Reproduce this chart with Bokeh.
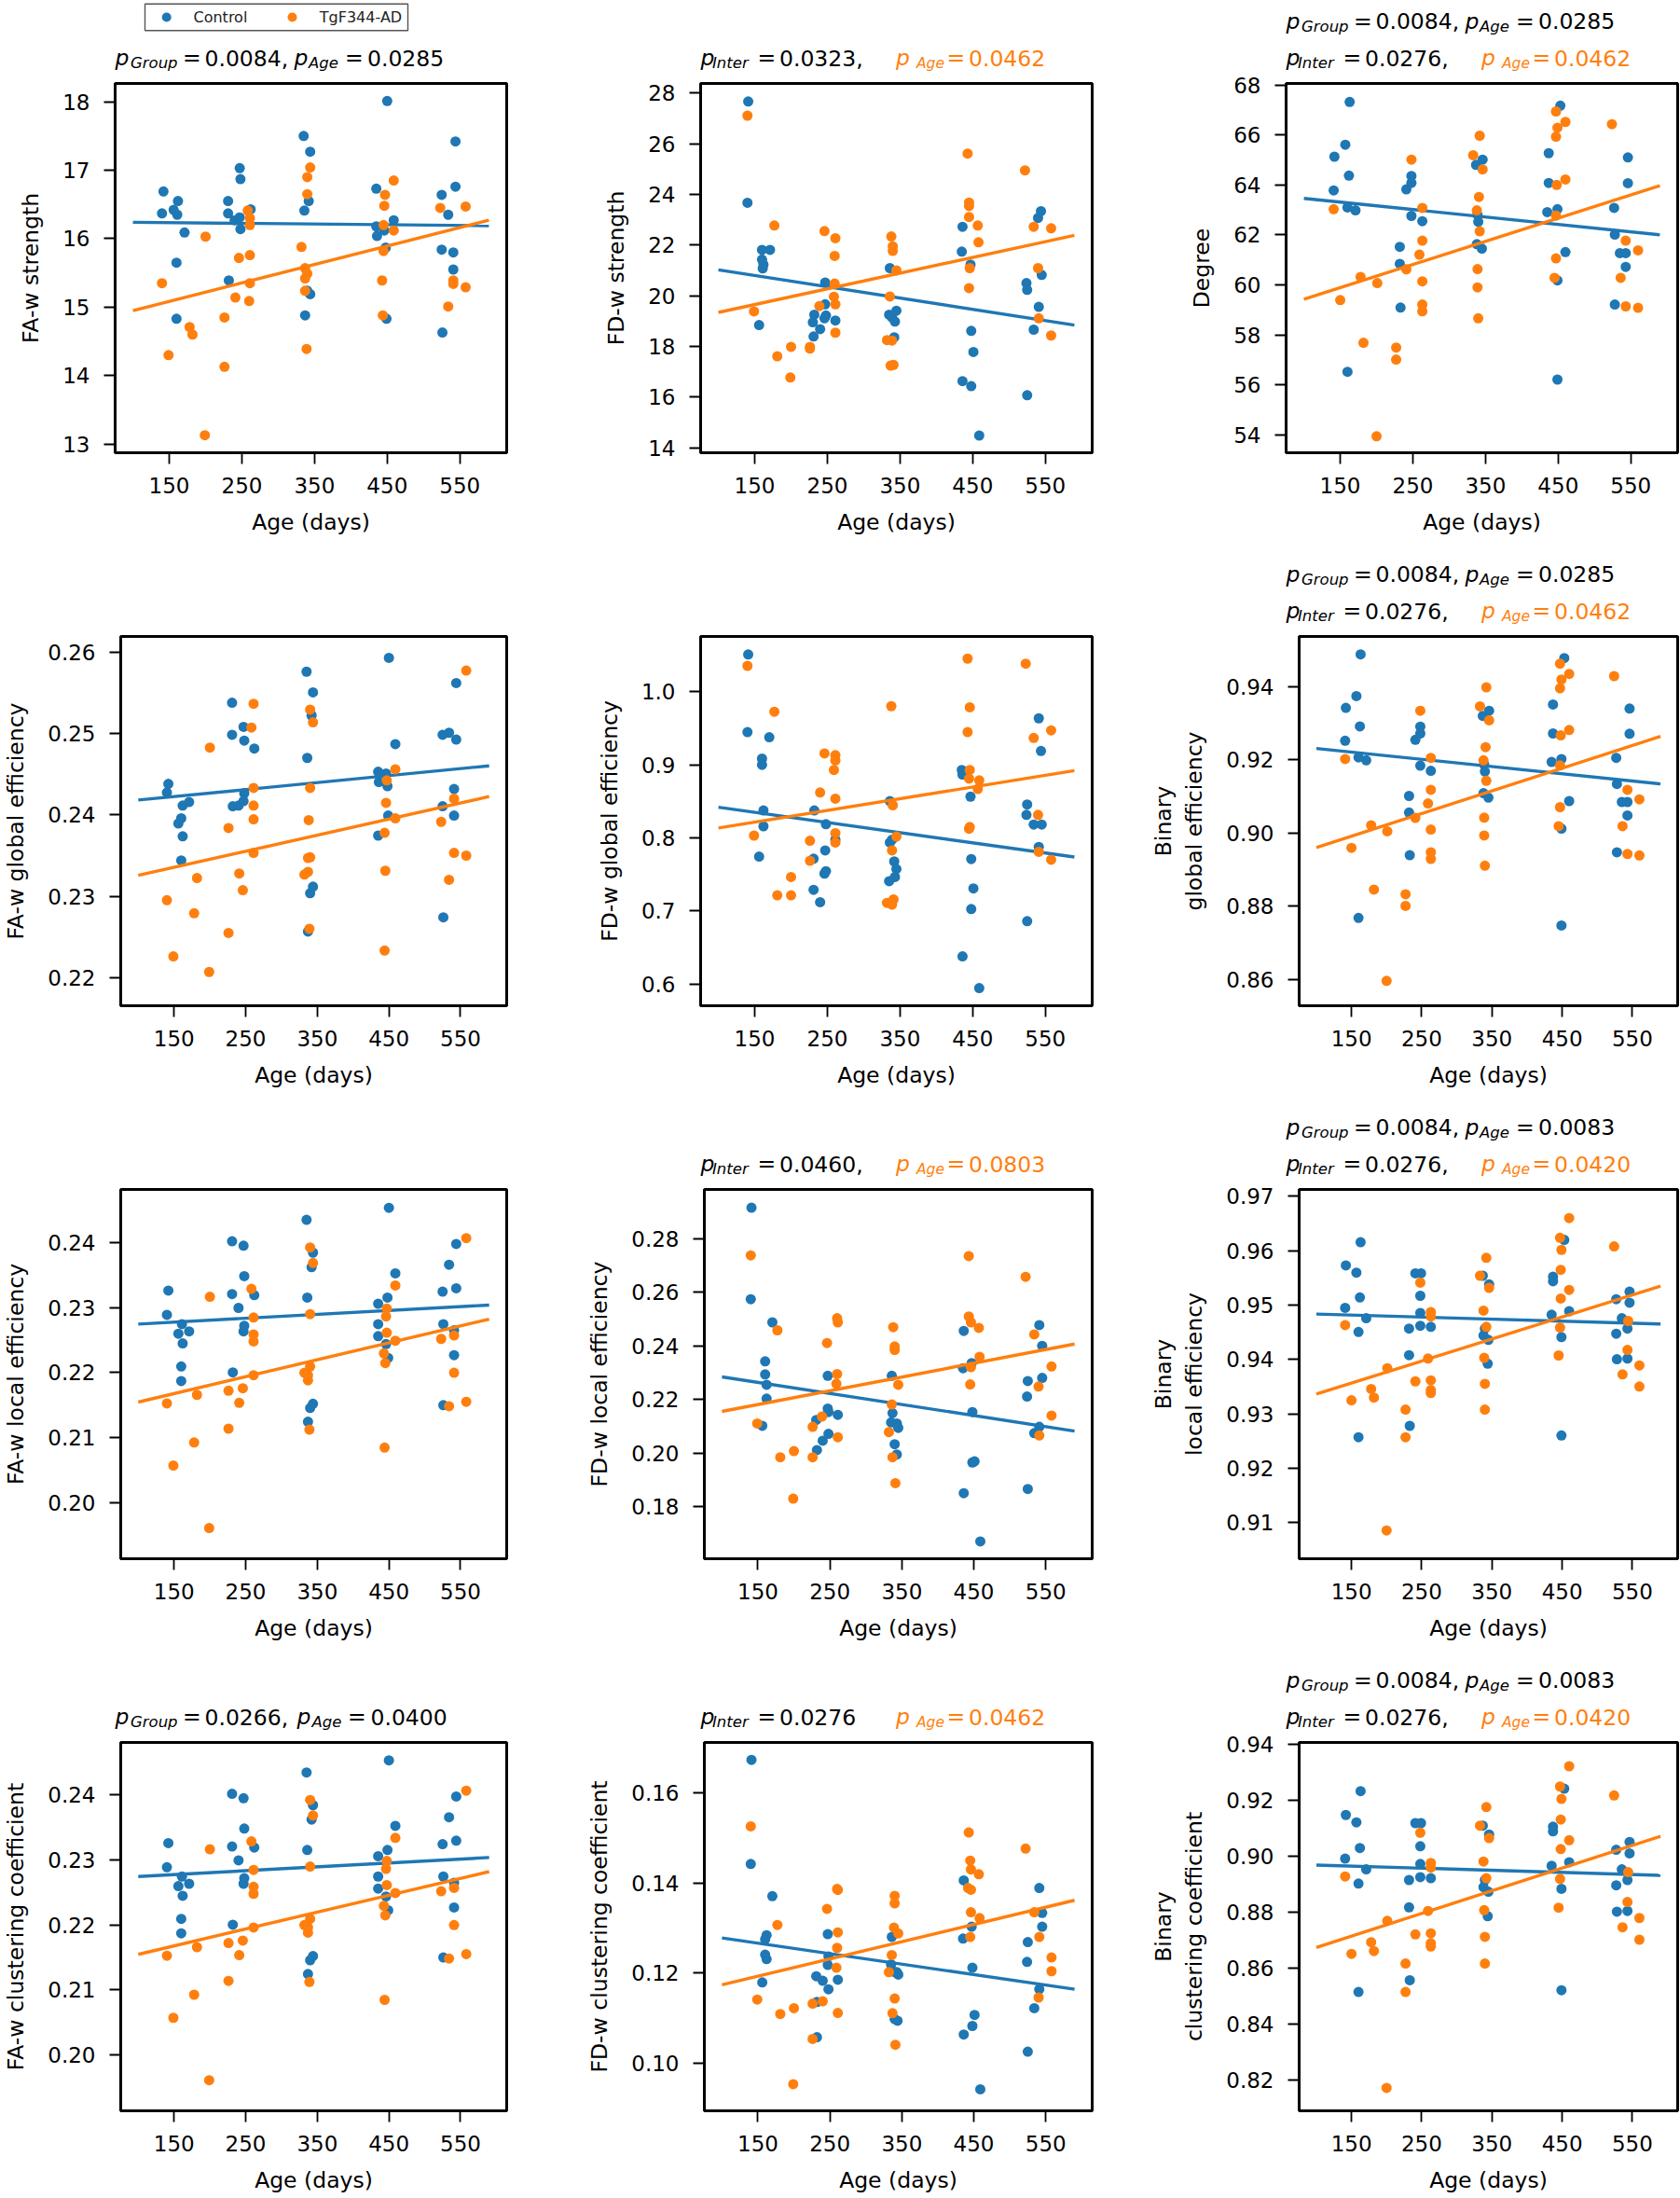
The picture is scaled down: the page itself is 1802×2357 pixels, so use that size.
from bokeh.plotting import figure
from bokeh.models import Range1d, FixedTicker, PrintfTickFormatter, Spacer
from bokeh.layouts import row, column
from bokeh.core.properties import value
from bokeh.embed import file_html
from bokeh.resources import INLINE

BLUE = "#1f77b4"
ORANGE = "#ff7f0e"
BLACK = "#000000"
FONT = "DejaVu Sans"

X_TICKS = [150, 250, 350, 450, 550]
X_RANGE = (75.5, 614.5)
FIT_X = [100, 590]
GROUPS = ["Control", "TgF344-AD"]

# ---------------- Panel 1: FA-w strength ----------------
p1_ctrl_age = [142, 140, 156, 162, 161, 171, 160, 160, 231, 231, 247, 248, 240, 247, 248, 262, 232,
               335, 344, 342, 336, 340, 344, 337, 450, 435, 435, 436, 446, 459, 448, 449,
               544, 544, 525, 534, 525, 541, 541, 526]
p1_ctrl_val = [16.69, 16.37, 16.42, 16.55, 16.35, 16.09, 15.65, 14.83, 16.55, 16.37, 17.03, 16.87, 16.27,
               16.31, 16.14, 16.43, 15.39, 17.50, 17.27, 16.55, 16.41, 15.24, 15.19, 14.88, 18.01, 16.73,
               16.18, 16.04, 16.12, 16.27, 15.87, 14.83, 17.42, 16.76, 16.64, 16.35, 15.84, 15.80, 15.55, 14.63]
p1_tg_age = [140, 149, 178, 182, 200, 199, 226, 226, 241, 246, 260, 261, 261, 258, 261, 261,
             332, 340, 344, 340, 337, 340, 337, 337, 339, 447, 446, 459, 445, 459, 445, 443, 444,
             523, 558, 541, 541, 558, 534]
p1_tg_val = [15.35, 14.30, 14.71, 14.60, 16.03, 13.13, 14.85, 14.13, 15.14, 15.72, 15.09, 15.35, 15.76,
             16.41, 16.30, 16.20, 15.88, 16.90, 17.04, 16.65, 15.57, 15.49, 15.42, 15.24, 14.39, 16.64,
             16.48, 16.85, 16.20, 16.12, 15.82, 15.39, 14.88, 16.45, 16.47, 15.39, 15.34, 15.29, 15.01]
p1_ctrl_fit = [16.24, 16.19]
p1_tg_fit = [14.95, 16.27]

# ---------------- Panel 2: FD-w strength ----------------
p2_ctrl_age = [141, 140, 156, 160, 171, 160, 162, 161, 247, 247, 232, 248, 230, 246, 240, 231, 261,
               336, 335, 339, 345, 343, 342, 436, 435, 447, 448, 451, 436, 448, 459,
               544, 540, 545, 524, 525, 541, 534, 525]
p2_ctrl_val = [27.67, 23.67, 18.84, 21.81, 21.81, 21.43, 21.23, 21.08, 20.52, 19.66, 19.25, 19.22, 18.95,
               19.11, 18.68, 18.39, 19.02, 21.09, 19.25, 19.14, 19.41, 18.98, 18.36, 22.72, 21.74, 21.23,
               18.61, 17.78, 16.63, 16.43, 14.48, 23.34, 23.07, 20.82, 20.50, 20.23, 19.56, 18.66, 16.07]
p2_tg_age = [140, 149, 177, 181, 200, 199, 226, 226, 239, 246, 261, 260, 260, 259, 261, 261,
             338, 340, 340, 345, 336, 332, 339, 337, 341, 443, 445, 445, 445, 457, 458, 446, 445,
             522, 534, 558, 540, 541, 558]
p2_tg_val = [27.11, 19.38, 22.77, 17.61, 17.98, 16.77, 17.98, 17.91, 19.59, 22.55, 22.27, 21.57, 20.48,
             19.96, 19.66, 18.54, 22.34, 21.95, 21.77, 21.00, 19.97, 18.25, 18.23, 17.24, 17.27, 25.61,
             23.68, 23.54, 23.11, 22.77, 22.11, 21.09, 20.30, 24.95, 22.72, 22.66, 21.09, 19.11, 18.43]
p2_ctrl_fit = [21.02, 18.84]
p2_tg_fit = [19.34, 22.38]

# ---------------- Panel 3: Degree ----------------
p3_ctrl_age = [163, 157, 142, 162, 141, 160, 171, 160, 248, 241, 248, 248, 263, 232, 232, 233,
               337, 346, 339, 340, 338, 345, 453, 437, 437, 435, 449, 460, 449, 449,
               546, 546, 527, 528, 535, 543, 543, 528]
p3_ctrl_val = [67.32, 65.61, 65.13, 64.37, 63.78, 63.10, 62.98, 56.52, 64.36, 63.82, 64.08, 62.76, 62.55,
               61.52, 60.84, 59.09, 64.80, 65.01, 62.80, 62.52, 61.63, 61.45, 67.17, 65.27, 64.08, 62.91,
               63.03, 61.31, 60.18, 56.21, 65.10, 64.07, 63.08, 62.01, 61.27, 61.27, 60.72, 59.21]
p3_tg_age = [141, 150, 178, 182, 201, 200, 227, 227, 241, 248, 263, 263, 259, 263, 263, 263,
             333, 342, 346, 341, 338, 342, 339, 339, 340, 447, 449, 447, 460, 448, 460, 447, 447, 445,
             524, 543, 560, 536, 543, 560]
p3_tg_val = [63.03, 59.39, 60.32, 57.68, 60.07, 53.94, 57.49, 57.01, 60.62, 65.01, 63.08, 61.77, 61.21,
             60.14, 59.21, 58.94, 65.19, 65.97, 64.62, 63.52, 62.98, 62.14, 60.63, 59.90, 58.66, 66.94,
             66.29, 65.93, 66.52, 64.00, 64.22, 62.77, 61.06, 60.28, 66.43, 61.77, 61.38, 60.28, 59.14, 59.08]
p3_ctrl_fit = [63.46, 62.00]
p3_tg_fit = [59.42, 63.97]

# ---------------- Panel 4: FA-w global efficiency ----------------
p4_ctrl_age = [142, 140, 156, 160, 162, 171, 162, 160, 231, 231, 247, 248, 262, 232, 240, 247, 248,
               335, 344, 342, 336, 340, 344, 337, 450, 459, 435, 436, 446, 448, 449, 435,
               544, 534, 525, 544, 541, 525, 541, 526]
p4_ctrl_val = [0.24381, 0.24275, 0.23894, 0.23958, 0.24114, 0.24157, 0.23737, 0.23441, 0.25377, 0.24983,
               0.25081, 0.24911, 0.24814, 0.24106, 0.24114, 0.24169, 0.24267, 0.25758, 0.25504, 0.25220,
               0.24699, 0.23038, 0.23119, 0.22568, 0.25928, 0.24869, 0.24530, 0.24403, 0.24508, 0.24352,
               0.23992, 0.23746, 0.25619, 0.25008, 0.24983, 0.24924, 0.24318, 0.24106, 0.23992, 0.22742]
p4_tg_age = [140, 149, 178, 182, 200, 199, 226, 226, 241, 246, 258, 261, 261, 261, 261, 261,
             340, 344, 340, 338, 340, 337, 332, 337, 339, 459, 447, 446, 459, 444, 445, 444,
             558, 541, 523, 541, 558, 534]
p4_tg_val = [0.22953, 0.22263, 0.22792, 0.23225, 0.24826, 0.22072, 0.23839, 0.22551, 0.23280, 0.23076,
             0.25072, 0.25364, 0.24331, 0.24114, 0.23945, 0.23534, 0.25292, 0.25136, 0.24331, 0.23936,
             0.23479, 0.23470, 0.23267, 0.23301, 0.22602, 0.24559, 0.24424, 0.24148, 0.23958, 0.23780,
             0.23314, 0.22335, 0.25771, 0.24199, 0.23915, 0.23534, 0.23500, 0.23203]
p4_ctrl_fit = [0.24182, 0.24602]
p4_tg_fit = [0.23258, 0.24225]

# ---------------- Panel 5: FD-w global efficiency ----------------
p5_ctrl_age = [141, 140, 170, 160, 160, 162, 162, 156, 232, 248, 261, 247, 231, 248, 246, 231, 240,
               336, 339, 336, 342, 345, 343, 335, 435, 436, 447, 448, 451, 448, 436, 459,
               541, 544, 525, 524, 534, 545, 541, 525]
p5_ctrl_val = [1.0510, 0.9447, 0.9377, 0.9084, 0.8999, 0.8375, 0.8158, 0.7743, 0.8375, 0.8187, 0.7974,
               0.7828, 0.7714, 0.7544, 0.7511, 0.7289, 0.7119, 0.8503, 0.7974, 0.7936, 0.7677, 0.7573,
               0.7464, 0.7407, 0.8928, 0.8867, 0.8564, 0.7710, 0.7308, 0.7025, 0.6378, 0.5943, 0.9636,
               0.9188, 0.8456, 0.8314, 0.8182, 0.8182, 0.7875, 0.6860]
p5_tg_age = [140, 149, 177, 181, 200, 200, 226, 226, 240, 246, 261, 261, 259, 261, 261, 261,
             338, 340, 345, 339, 332, 339, 341, 443, 446, 443, 446, 445, 459, 457, 446, 445,
             523, 534, 558, 540, 541, 558]
p5_tg_val = [1.0354, 0.8031, 0.9726, 0.7214, 0.7464, 0.7214, 0.7960, 0.7686, 0.8621, 0.9155, 0.9131,
             0.9060, 0.8928, 0.8536, 0.8064, 0.7936, 0.9802, 0.8446, 0.8017, 0.7828, 0.7110, 0.7086,
             0.7157, 1.0453, 0.9787, 0.9447, 0.8928, 0.8810, 0.8786, 0.8668, 0.8149, 0.8125, 1.0383,
             0.9367, 0.9471, 0.8314, 0.7809, 0.7700]
p5_ctrl_fit = [0.8418, 0.7738]
p5_tg_fit = [0.8135, 0.8919]

# ---------------- Panel 6: Binary global efficiency (same animals/ages as panel 3) ----------------
p6_ctrl_val = [0.94880, 0.93740, 0.93420, 0.92913, 0.92520, 0.92067, 0.91987, 0.87680, 0.92907, 0.92547,
               0.92720, 0.91840, 0.91700, 0.91013, 0.90560, 0.89393, 0.93200, 0.93340, 0.91867, 0.91680,
               0.91087, 0.90967, 0.94780, 0.93513, 0.92720, 0.91940, 0.92020, 0.90873, 0.90120, 0.87473,
               0.93400, 0.92713, 0.92053, 0.91340, 0.90847, 0.90847, 0.90480, 0.89473]
p6_tg_val = [0.92020, 0.89593, 0.90213, 0.88453, 0.90047, 0.85960, 0.88327, 0.88007, 0.90413, 0.93340,
             0.92053, 0.91180, 0.90807, 0.90093, 0.89473, 0.89293, 0.93460, 0.93980, 0.93080, 0.92347,
             0.91987, 0.91427, 0.90420, 0.89933, 0.89107, 0.94627, 0.94193, 0.93953, 0.94347, 0.92667,
             0.92813, 0.91847, 0.90707, 0.90187, 0.94287, 0.91180, 0.90920, 0.90187, 0.89427, 0.89387]
p6_ctrl_fit = [0.9231, 0.9134]
p6_tg_fit = [0.8960, 0.9264]

# ---------------- Panel 7 / 10: FA-w local efficiency / clustering coefficient ----------------
p7_ctrl_age = [142, 140, 156, 161, 171, 162, 160, 160, 231, 247, 248, 231, 240, 248, 247, 262, 232,
               335, 344, 342, 336, 340, 344, 337, 450, 459, 435, 448, 435, 435, 446, 449,
               544, 534, 525, 544, 526, 541, 541, 526]
p7_ctrl_val = [0.23258, 0.22887, 0.22596, 0.22744, 0.22633, 0.22448, 0.22093, 0.21870, 0.24016, 0.23947,
               0.23481, 0.23205, 0.22993, 0.22718, 0.22633, 0.23189, 0.22003, 0.24344, 0.23841, 0.23619,
               0.23152, 0.21457, 0.21521, 0.21245, 0.24530, 0.23523, 0.23057, 0.23152, 0.22744, 0.22559,
               0.22437, 0.22225, 0.23974, 0.23656, 0.23242, 0.23295, 0.22744, 0.22649, 0.22268, 0.21499]
p7_tg_age = [140, 149, 178, 182, 200, 199, 226, 226, 241, 246, 258, 261, 261, 261, 261,
             340, 344, 340, 332, 340, 337, 337, 339, 459, 447, 446, 447, 459, 443, 445, 444,
             558, 523, 541, 541, 558, 534]
p7_tg_val = [0.21526, 0.20572, 0.20927, 0.21658, 0.23163, 0.19613, 0.21722, 0.21139, 0.21536, 0.21759,
             0.23285, 0.22845, 0.22585, 0.22479, 0.21960, 0.23921, 0.23682, 0.22898, 0.21997, 0.22093,
             0.21960, 0.21881, 0.21123, 0.23338, 0.22983, 0.22861, 0.22612, 0.22490, 0.22294, 0.22146,
             0.20848, 0.24064, 0.22517, 0.22570, 0.21997, 0.21552, 0.21483]
p7_ctrl_fit = [0.22744, 0.23036]
p7_tg_fit = [0.21547, 0.22819]

# ---------------- Panel 8: FD-w local efficiency ----------------
p8_ctrl_age = [141, 140, 170, 160, 160, 162, 162, 156, 247, 247, 248, 261, 231, 248, 240, 232,
               336, 337, 335, 343, 345, 340, 343, 436, 435, 447, 448, 448, 451, 436, 459,
               541, 545, 525, 545, 524, 541, 534, 525]
p8_ctrl_val = [0.29158, 0.25748, 0.24885, 0.23431, 0.22942, 0.22556, 0.22041, 0.21025, 0.22891, 0.21668,
               0.21539, 0.21436, 0.21243, 0.20728, 0.20471, 0.20124, 0.22891, 0.21500, 0.21153, 0.21114,
               0.20947, 0.20342, 0.19956, 0.24564, 0.23174, 0.23367, 0.21539, 0.19660, 0.19699, 0.18515,
               0.16713, 0.24783, 0.24010, 0.22697, 0.22813, 0.22118, 0.20986, 0.20754, 0.18669]
p8_tg_age = [140, 149, 177, 181, 200, 199, 226, 226, 239, 246, 260, 261, 260, 259, 261,
             338, 340, 340, 345, 336, 332, 337, 341, 443, 443, 446, 457, 458, 446, 445,
             522, 534, 558, 540, 558, 541]
p8_tg_val = [0.27382, 0.21114, 0.24589, 0.19853, 0.20085, 0.18309, 0.20986, 0.19853, 0.21372, 0.24113,
             0.25040, 0.24885, 0.22955, 0.22595, 0.20600, 0.24705, 0.23985, 0.23856, 0.22556, 0.21822,
             0.20793, 0.19853, 0.18888, 0.27356, 0.25104, 0.24885, 0.24679, 0.23598, 0.23212, 0.22569,
             0.26584, 0.24435, 0.23238, 0.22492, 0.21410, 0.20664]
p8_ctrl_fit = [0.22852, 0.20831]
p8_tg_fit = [0.21565, 0.24075]

# ---------------- Panel 9: Binary local efficiency ----------------
p9_ctrl_age = [163, 142, 157, 162, 141, 171, 160, 160, 241, 249, 248, 248, 248, 263, 232, 232, 233,
               337, 346, 340, 338, 345, 344, 453, 437, 437, 435, 460, 449, 449,
               546, 546, 527, 535, 543, 527, 528, 543]
p9_ctrl_val = [0.96156, 0.95730, 0.95597, 0.95140, 0.94949, 0.94759, 0.94505, 0.92568, 0.95584, 0.95584,
               0.95171, 0.94854, 0.94619, 0.94600, 0.94568, 0.94079, 0.92778, 0.95540, 0.95381, 0.94568,
               0.94441, 0.94359, 0.93921, 0.96200, 0.95521, 0.95438, 0.94822, 0.94886, 0.94410, 0.92600,
               0.95248, 0.95044, 0.95108, 0.94759, 0.94568, 0.94473, 0.94003, 0.94016]
p9_tg_age = [141, 150, 178, 182, 201, 200, 227, 227, 241, 248, 263, 263, 259, 263, 263, 263,
             333, 342, 346, 338, 342, 339, 340, 340, 460, 447, 449, 448, 460, 448, 447, 445,
             524, 544, 543, 560, 536, 560]
p9_tg_val = [0.94632, 0.93248, 0.93457, 0.93298, 0.93838, 0.90854, 0.93076, 0.92568, 0.93597, 0.95413,
             0.94873, 0.94790, 0.94016, 0.93616, 0.93438, 0.93381, 0.95540, 0.95870, 0.95317, 0.94898,
             0.94600, 0.94029, 0.93552, 0.93076, 0.96600, 0.96238, 0.96016, 0.95648, 0.95279, 0.95121,
             0.94587, 0.94073, 0.96079, 0.94708, 0.94175, 0.93889, 0.93724, 0.93502]
p9_ctrl_fit = [0.94835, 0.94651]
p9_tg_fit = [0.93362, 0.95349]

# ---------------- Panel 11: FD-w clustering coefficient ----------------
p11_ctrl_age = [141, 140, 170, 162, 160, 160, 162, 156, 247, 247, 248, 261, 231, 240, 248, 232, 232,
                336, 335, 339, 345, 343, 340, 344, 436, 435, 447, 448, 451, 448, 436, 459,
                541, 545, 545, 525, 524, 541, 534, 525]
p11_ctrl_val = [0.16720, 0.14417, 0.13705, 0.12841, 0.12750, 0.12409, 0.12311, 0.11795, 0.12864, 0.12182,
                0.12371, 0.11856, 0.11932, 0.11833, 0.11644, 0.11364, 0.10583, 0.12803, 0.12197, 0.12030,
                0.11970, 0.12023, 0.10985, 0.10947, 0.14053, 0.12765, 0.13030, 0.12121, 0.11076, 0.10833,
                0.10644, 0.09432, 0.13886, 0.13333, 0.13030, 0.12689, 0.12250, 0.11644, 0.11227, 0.10265]
p11_tg_age = [140, 149, 177, 181, 200, 199, 226, 226, 240, 246, 260, 261, 261, 260, 259, 261,
              340, 340, 339, 345, 336, 332, 340, 337, 341, 443, 445, 446, 457, 442, 446, 446, 458, 445,
              522, 534, 541, 558, 558, 540]
p11_tg_val = [0.15250, 0.11417, 0.13068, 0.11098, 0.11227, 0.09545, 0.11326, 0.10545, 0.11379, 0.13424,
              0.13864, 0.13841, 0.12902, 0.12561, 0.12121, 0.11121, 0.13712, 0.13545, 0.13008, 0.12879,
              0.12402, 0.12023, 0.11439, 0.11114, 0.10417, 0.15114, 0.14492, 0.14295, 0.14189, 0.13886,
              0.13848, 0.13348, 0.13220, 0.12803, 0.14758, 0.13348, 0.12803, 0.12348, 0.12045, 0.11462]
p11_ctrl_fit = [0.12780, 0.11644]
p11_tg_fit = [0.11742, 0.13614]

# ---------------- Panel 12: Binary clustering coefficient (same ages as panel 9) ----------------
p12_ctrl_val = [0.92312, 0.91460, 0.91194, 0.90280, 0.89898, 0.89518, 0.89010, 0.85136, 0.91168, 0.91168,
                0.90342, 0.89708, 0.89238, 0.89200, 0.89136, 0.88158, 0.85556, 0.91080, 0.90762, 0.89136,
                0.88882, 0.88718, 0.87842, 0.92400, 0.91042, 0.90876, 0.89644, 0.89772, 0.88820, 0.85200,
                0.90496, 0.90088, 0.90216, 0.89518, 0.89136, 0.88946, 0.88006, 0.88032]
p12_tg_val = [0.89264, 0.86496, 0.86914, 0.86596, 0.87676, 0.81708, 0.86152, 0.85136, 0.87194, 0.90826,
              0.89746, 0.89580, 0.88032, 0.87232, 0.86876, 0.86762, 0.91080, 0.91740, 0.90634, 0.89796,
              0.89200, 0.88058, 0.87104, 0.86152, 0.93200, 0.92476, 0.92032, 0.91296, 0.90558, 0.90242,
              0.89174, 0.88146, 0.92158, 0.89416, 0.88350, 0.87778, 0.87448, 0.87004]
p12_ctrl_fit = [0.89670, 0.89302]
p12_tg_fit = [0.86724, 0.90698]

# ---------------- panel descriptions ----------------
panels = [
    dict(ylabel="FA-w strength", yr=(12.874, 18.267), yt=[13, 14, 15, 16, 17, 18], fmt="%d",
         c=(p1_ctrl_age, p1_ctrl_val, p1_ctrl_fit), t=(p1_tg_age, p1_tg_val, p1_tg_fit),
         notes=[("group", "0.0084,", "0.0285", 0)]),
    dict(ylabel="FD-w strength", yr=(13.80, 28.38), yt=[14, 16, 18, 20, 22, 24, 26, 28], fmt="%d",
         c=(p2_ctrl_age, p2_ctrl_val, p2_ctrl_fit), t=(p2_tg_age, p2_tg_val, p2_tg_fit),
         notes=[("inter", "0.0323,", "0.0462", 0)]),
    dict(ylabel="Degree", yr=(53.28, 68.06), yt=[54, 56, 58, 60, 62, 64, 66, 68], fmt="%d",
         c=(p3_ctrl_age, p3_ctrl_val, p3_ctrl_fit), t=(p3_tg_age, p3_tg_val, p3_tg_fit),
         notes=[("group", "0.0084,", "0.0285", 1), ("inter", "0.0276,", "0.0462", 0)]),
    dict(ylabel="FA-w global efficiency", yr=(0.21657, 0.2619), yt=[0.22, 0.23, 0.24, 0.25, 0.26], fmt="%.2f",
         c=(p4_ctrl_age, p4_ctrl_val, p4_ctrl_fit), t=(p4_tg_age, p4_tg_val, p4_tg_fit), notes=[]),
    dict(ylabel="FD-w global efficiency", yr=(0.5702, 1.0756), yt=[0.6, 0.7, 0.8, 0.9, 1.0], fmt="%.1f",
         c=(p5_ctrl_age, p5_ctrl_val, p5_ctrl_fit), t=(p5_tg_age, p5_tg_val, p5_tg_fit), notes=[]),
    dict(ylabel="Binary\nglobal efficiency", yr=(0.8528, 0.9537), yt=[0.86, 0.88, 0.90, 0.92, 0.94], fmt="%.2f",
         c=(p3_ctrl_age, p6_ctrl_val, p6_ctrl_fit), t=(p3_tg_age, p6_tg_val, p6_tg_fit),
         notes=[("group", "0.0084,", "0.0285", 1), ("inter", "0.0276,", "0.0462", 0)]),
    dict(ylabel="FA-w local efficiency", yr=(0.19142, 0.24811), yt=[0.20, 0.21, 0.22, 0.23, 0.24], fmt="%.2f",
         c=(p7_ctrl_age, p7_ctrl_val, p7_ctrl_fit), t=(p7_tg_age, p7_tg_val, p7_tg_fit), notes=[]),
    dict(ylabel="FD-w local efficiency", yr=(0.16069, 0.29840), yt=[0.18, 0.20, 0.22, 0.24, 0.26, 0.28], fmt="%.2f",
         c=(p8_ctrl_age, p8_ctrl_val, p8_ctrl_fit), t=(p8_tg_age, p8_tg_val, p8_tg_fit),
         notes=[("inter", "0.0460,", "0.0803", 0)]),
    dict(ylabel="Binary\nlocal efficiency", yr=(0.90333, 0.97127),
         yt=[0.91, 0.92, 0.93, 0.94, 0.95, 0.96, 0.97], fmt="%.2f",
         c=(p9_ctrl_age, p9_ctrl_val, p9_ctrl_fit), t=(p9_tg_age, p9_tg_val, p9_tg_fit),
         notes=[("group", "0.0084,", "0.0083", 1), ("inter", "0.0276,", "0.0420", 0)]),
    dict(ylabel="FA-w clustering coefficient", yr=(0.19142, 0.24805), yt=[0.20, 0.21, 0.22, 0.23, 0.24], fmt="%.2f",
         c=(p7_ctrl_age, p7_ctrl_val, p7_ctrl_fit), t=(p7_tg_age, p7_tg_val, p7_tg_fit),
         notes=[("group2", "0.0266,", "0.0400", 0)]),
    dict(ylabel="FD-w clustering coefficient", yr=(0.08955, 0.17106), yt=[0.10, 0.12, 0.14, 0.16], fmt="%.2f",
         c=(p11_ctrl_age, p11_ctrl_val, p11_ctrl_fit), t=(p11_tg_age, p11_tg_val, p11_tg_fit),
         notes=[("inter", "0.0276", "0.0462", 0)]),
    dict(ylabel="Binary\nclustering coefficient", yr=(0.8089, 0.9405),
         yt=[0.82, 0.84, 0.86, 0.88, 0.90, 0.92, 0.94], fmt="%.2f",
         c=(p9_ctrl_age, p12_ctrl_val, p12_ctrl_fit), t=(p9_tg_age, p12_tg_val, p12_tg_fit),
         notes=[("group", "0.0084,", "0.0083", 1), ("inter", "0.0276,", "0.0420", 0)]),
]

# ---------------- layout geometry (page pixels) ----------------
FRAME_W = 420
FRAME_H = 396
TOP_PAD = 10
COLS = [dict(width=626, bl=123), dict(width=604, bl=125), dict(width=571, bl=149)]
FRAME_LEFT = [123, 751, 1379]
TOTAL_W = sum(c["width"] for c in COLS)
HEADER_H = [79, 72, 72, 72]
PANEL_H = [517, 517, 517, 496]
MAIN = 23.5
SUB = 16.5
SUB2 = 15.5

OFFS = {
    "group": [0, 16.5, 72.5, 96, 192, 207.5, 246.5, 270.5],
    "group2": [0, 16.5, 72.5, 96, 195, 211, 249.5, 274],
    "inter": [0, 12.5, 61, 84.5, 209.5, 231.5, 264, 287.5],
}


def put_text(h, x, y_base, txt, size_px, style="normal", color=BLACK):
    # place text by its alphabetic baseline, using a 'middle' anchor
    y_mid = y_base + 0.346 * size_px
    h.text(x=[x], y=[y_mid], text=[txt], text_font=value(FONT), text_font_size="%gpx" % size_px,
           text_font_style=style, text_color=color, text_baseline="middle", text_align="left")


def add_note(h, x0, kind, n1, n2, line_idx):
    yb = 48.5 if line_idx == 1 else 9
    sub1 = "Inter" if kind == "inter" else "Group"
    c2 = ORANGE if kind == "inter" else BLACK
    s2 = SUB2 if kind == "inter" else SUB
    pieces = [("p", "italic", MAIN, BLACK, 0), (sub1, "italic", SUB, BLACK, -3),
              ("=", "normal", MAIN, BLACK, 0), (n1, "normal", MAIN, BLACK, 0),
              ("p", "italic", MAIN, c2, 0), ("Age", "italic", s2, c2, -3),
              ("=", "normal", MAIN, c2, 0), (n2, "normal", MAIN, c2, 0)]
    for (txt, style, size, color, dy), dx in zip(pieces, OFFS[kind]):
        put_text(h, x0 + dx, yb + dy, txt, size, style, color)


def make_header(r):
    hh = HEADER_H[r]
    h = figure(width=TOTAL_W, height=hh, x_range=Range1d(0, TOTAL_W), y_range=Range1d(0, hh),
               x_axis_location=None, y_axis_location=None, toolbar_location=None,
               output_backend="svg", min_border=0, outline_line_color=None)
    h.grid.visible = False
    for c in range(3):
        spec = panels[3 * r + c]
        for kind, n1, n2, li in spec["notes"]:
            add_note(h, FRAME_LEFT[c], kind, n1, n2, li)
    if r == 0:
        # legend (upper left, above the first panel)
        h.quad(left=[155], right=[437], bottom=[46.8], top=[75.3], fill_color="white",
               line_color="#555555", line_width=1.4)
        h.scatter([178.2, 313], [61, 61], size=10, fill_color=[BLUE, ORANGE], line_color=None)
        h.text(x=[207, 342.3], y=[61, 61], text=GROUPS, text_font=value(FONT),
               text_font_size="16px", text_color="#222222", text_baseline="middle",
               text_align="left")
    return h


def make_panel(idx, spec):
    r, c = divmod(idx, 3)
    col = COLS[c]
    ph = PANEL_H[r]
    p = figure(width=col["width"], height=ph,
               x_range=Range1d(*X_RANGE), y_range=Range1d(*spec["yr"]),
               output_backend="svg", toolbar_location=None,
               min_border_left=col["bl"], min_border_right=col["width"] - col["bl"] - FRAME_W,
               min_border_top=TOP_PAD, min_border_bottom=ph - TOP_PAD - FRAME_H)
    p.xgrid.visible = False
    p.ygrid.visible = False
    p.outline_line_color = "black"
    p.outline_line_width = 3
    p.background_fill_color = "white"
    p.border_fill_color = "white"

    p.xaxis.ticker = FixedTicker(ticks=X_TICKS)
    p.yaxis.ticker = FixedTicker(ticks=spec["yt"])
    p.yaxis.formatter = PrintfTickFormatter(format=spec["fmt"])
    p.xaxis.axis_label = "Age (days)"
    p.yaxis.axis_label = spec["ylabel"]
    for ax in (p.xaxis[0], p.yaxis[0]):
        ax.axis_line_color = "black"
        ax.axis_line_width = 3
        ax.major_tick_line_color = "black"
        ax.major_tick_line_width = 1.8
        ax.major_tick_out = 12
        ax.major_tick_in = 0
        ax.minor_tick_line_color = None
        ax.major_label_text_font = FONT
        ax.major_label_text_font_size = "23px"
        ax.major_label_text_color = "black"
        ax.axis_label_text_font = FONT
        ax.axis_label_text_font_size = "23.5px"
        ax.axis_label_text_font_style = "normal"
        ax.axis_label_text_color = "black"
    p.xaxis.major_label_standoff = 14
    p.xaxis.axis_label_standoff = 14
    p.yaxis.major_label_standoff = 15
    p.yaxis.axis_label_standoff = 17

    ca, cv, cf = spec["c"]
    ta, tv, tf = spec["t"]
    p.scatter(ca, cv, size=11, fill_color=BLUE, line_color=None)
    p.line(FIT_X, cf, line_width=3.4, line_color=BLUE)
    p.scatter(ta, tv, size=11, fill_color=ORANGE, line_color=None)
    p.line(FIT_X, tf, line_width=3.4, line_color=ORANGE)
    return p


def separator():
    s = figure(width=1756, height=4, x_axis_location=None, y_axis_location=None,
               toolbar_location=None, output_backend="svg", min_border=0,
               background_fill_color="black", border_fill_color="black",
               outline_line_color=None)
    s.grid.visible = False
    return row(Spacer(width=41, height=4), s)


figs = [make_panel(i, spec) for i, spec in enumerate(panels)]
blocks = []
for r in range(4):
    blocks.append(make_header(r))
    blocks.append(row(*figs[3 * r:3 * r + 3]))
    if r < 3:
        blocks.append(separator())
layout = column(*blocks)

open("out.html", "w").write(file_html(layout, INLINE))
